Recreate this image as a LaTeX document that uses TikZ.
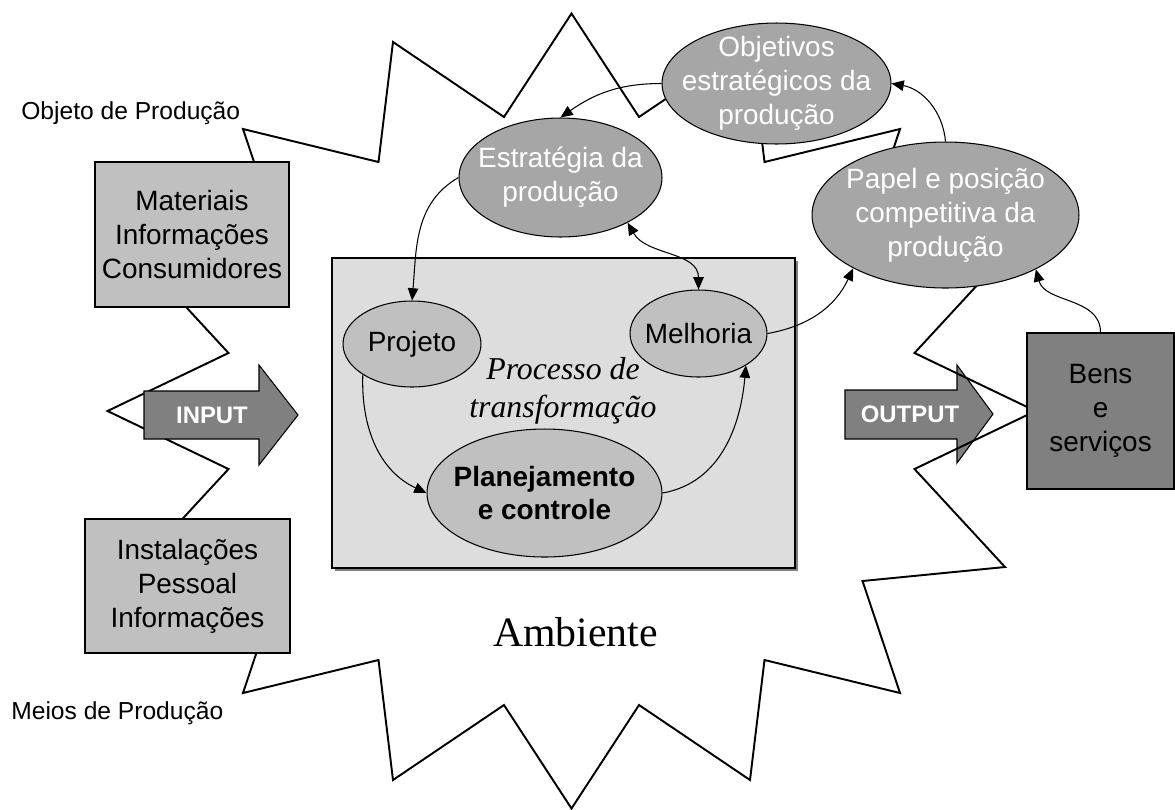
\documentclass[tikz,border=0pt]{standalone}
\usepackage{fontspec}
\setmainfont{Liberation Serif}
\setsansfont{Liberation Sans}
\usetikzlibrary{arrows.meta,shapes.geometric}
\definecolor{cinzaclaro}{HTML}{DDDDDD}
\definecolor{cinzamedio}{HTML}{C0C0C0}
\definecolor{cinzaelipse}{HTML}{A6A6A6}
\definecolor{cinzaescuro}{HTML}{808080}
\begin{document}
\begin{tikzpicture}[x=0.02cm,y=-0.02cm,>={Triangle[length=7pt,width=6pt]},
  caixa/.style={draw,line width=0.8pt,fill=cinzamedio,align=center,inner sep=0pt,font=\fontsize{15.9}{19.3}\selectfont\sffamily},
  elipse/.style={ellipse,draw,line width=0.6pt,inner sep=0pt},
  txt/.style={align=center,font=\fontsize{15.9}{19.3}\selectfont\sffamily},
  seta/.style={draw,line width=0.6pt,fill=cinzaescuro},
  setatxt/.style={text=white,font=\fontsize{13.6}{16}\selectfont\sffamily\bfseries},
  liga/.style={->,line width=0.6pt},
  estrela/.style={line width=1.1pt,line join=miter}]
\useasboundingbox (0,0) rectangle (1175,809);
% processo de transformacao
\fill[cinzaescuro](335,261) rectangle (798,571);
\node[draw,line width=0.8pt,fill=cinzaclaro,minimum width=9.26cm,minimum height=6.2cm,inner sep=0pt] (processo) at (563.5,413) {};
\draw[seta](845,390)--(957,390)--(957,365)--(993,414)--(957,463)--(957,439)--(845,439)--cycle;
%% ambiente
\begin{scope}[shift={(571.5,411)}]
\draw[estrela](0,-397.5)--(67.5,-294)--(178.5,-369)--(193,-249)--(328.5,-282)--(291,-170)
--(433.5,-156)--(343,-58)--(464,0)--(343,58)--(433.5,156)--(291,170)--(328.5,282)
--(193,249)--(178.5,369)--(67.5,294)--(0,397.5)--(-67.5,294)--(-178.5,369)--(-193,249)
--(-328.5,282)--(-291,170)--(-433.5,156)--(-343,58)--(-464,0)--(-343,-58)--(-433.5,-156)
--(-291,-170)--(-328.5,-282)--(-193,-249)--(-178.5,-369)--(-67.5,-294)--cycle;
\end{scope}
\draw[seta](144,391)--(259,391)--(259,365)--(298,415)--(259,465)--(259,439)--(144,439)--cycle;
\node[setatxt] (input) at (212,415) {INPUT};
\node[setatxt] (output) at (910,414) {OUTPUT};
%% caixas
\node[caixa,minimum width=3.88cm,minimum height=2.9cm] (materiais) at (192,234.5) {Materiais\\Informações\\Consumidores};
\node[caixa,minimum width=4.1cm,minimum height=2.68cm] (instalacoes) at (187.5,586) {Instalações\\Pessoal\\Informações};
\node[caixa,fill=cinzaescuro,minimum width=2.94cm,minimum height=3.12cm] (bens) at (1100.5,411) {Bens\\e\\serviços};
%% elipses
\node[elipse,fill=cinzaelipse,minimum width=4.58cm,minimum height=2.42cm] (objetivos) at (776.5,83.5) {};
\node[elipse,fill=cinzaelipse,minimum width=4.06cm,minimum height=2.38cm] (estrategia) at (560.5,177.5) {};
\node[elipse,fill=cinzaelipse,minimum width=5.34cm,minimum height=2.92cm] (papel) at (945.5,215) {};
\node[elipse,fill=cinzamedio,minimum width=2.76cm,minimum height=1.72cm] (projeto) at (412,344) {};
\node[elipse,fill=cinzamedio,minimum width=2.74cm,minimum height=1.74cm] (melhoria) at (698.5,333.5) {};
\node[elipse,fill=cinzamedio,minimum width=4.7cm,minimum height=2.56cm] (planejamento) at (544.5,493) {};
\node[txt,text=white] (objetivos-t) at (objetivos) {Objetivos\\estratégicos da\\produção};
\node[txt,text=white] (estrategia-t) at (estrategia) {Estratégia da\\produção};
\node[txt,text=white] (papel-t) at (papel) {Papel e posição\\competitiva da\\produção};
\node[txt] (projeto-t) at (projeto) {Projeto};
\node[txt] (melhoria-t) at (melhoria) {Melhoria};
\node[txt,font=\fontsize{15.9}{19.3}\selectfont\sffamily\bfseries] (planejamento-t) at (planejamento) {Planejamento\\e controle};
%% textos
\node[align=center,font=\fontsize{18.1}{21.5}\selectfont\itshape] (processo-t) at (563,391) {Processo de\\transformação};
\node[font=\fontsize{23.8}{28}\selectfont] (ambiente) at (575.5,632) {Ambiente};
\node[anchor=west,inner sep=0pt,font=\fontsize{14}{17}\selectfont\sffamily] (objeto) at (21,113) {Objeto de Produção};
\node[anchor=west,inner sep=0pt,font=\fontsize{14}{17}\selectfont\sffamily] (meios) at (11,713) {Meios de Produção};
%% ligacoes
\draw[liga](objetivos.west) to[out=180,in=35] (estrategia.north);
\draw[liga](estrategia.west) to[out=210,in=85] (projeto.north);
\draw[liga,<->](estrategia.-34) to[out=-60,in=90] (melhoria.north);
\draw[liga](projeto.-148) to[out=-92,in=155] (planejamento.west);
\draw[liga](planejamento.east) to[out=10,in=-95] (melhoria.-34);
\draw[liga](melhoria.east) to[out=10,in=-115] (papel.-150);
\draw[liga](bens.north) to[out=90,in=-75] (papel.-31);
\draw[liga](papel.north) to[out=95,in=-10] (objetivos.east);
\end{tikzpicture}
\end{document}
